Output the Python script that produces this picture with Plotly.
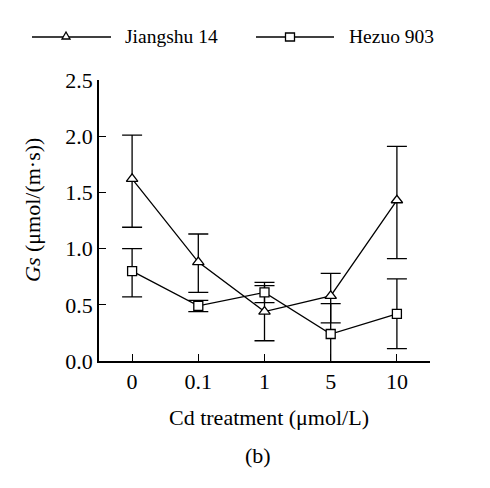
import plotly.graph_objects as go

categories = ["0", "0.1", "1", "5", "10"]
jiangshu = [1.62, 0.88, 0.44, 0.58, 1.43]
jiangshu_plus = [0.39, 0.25, 0.26, 0.20, 0.48]
jiangshu_minus = [0.43, 0.27, 0.26, 0.24, 0.52]
hezuo = [0.80, 0.49, 0.61, 0.24, 0.42]
hezuo_plus = [0.20, 0.05, 0.06, 0.27, 0.31]
hezuo_minus = [0.23, 0.05, 0.09, 0.28, 0.31]
y_ticks = [0.0, 0.5, 1.0, 1.5, 2.0, 2.5]
y_ticklabels = ["0.0", "0.5", "1.0", "1.5", "2.0", "2.5"]
series_names = ["Jiangshu 14", "Hezuo 903"]

FONT = "Liberation Serif, Times New Roman, serif"
OFF = 8  # page body margin
W, H = 490, 488
# plot area in screen pixels: x 99..430, y 80..361
L, T = 99 - OFF, 80 - OFF
R = W - (430 - OFF)
B = H - (361 - OFF)
PW, PH = W - L - R, H - T - B
FS = 22
LEG_FS = 19.5


def px(x):
    return (x - OFF - L) / PW


def py(y):
    return (H - B - (y - OFF)) / PH


xs = list(range(len(categories)))

fig = go.Figure()
fig.add_trace(go.Scatter(
    x=xs, y=jiangshu, mode="lines+markers", name=series_names[0],
    line=dict(color="black", width=1.3),
    marker=dict(symbol="triangle-up", size=10, color="white",
                line=dict(color="black", width=1.3)),
    error_y=dict(type="data", array=jiangshu_plus, arrayminus=jiangshu_minus,
                 color="black", thickness=1.3, width=10),
    showlegend=False,
))
fig.add_trace(go.Scatter(
    x=xs, y=hezuo, mode="lines+markers", name=series_names[1],
    line=dict(color="black", width=1.3),
    marker=dict(symbol="square", size=9, color="white",
                line=dict(color="black", width=1.3)),
    error_y=dict(type="data", array=hezuo_plus, arrayminus=hezuo_minus,
                 color="black", thickness=1.3, width=10),
    showlegend=False,
))

shapes = []
annotations = []
leg_y = 37
legend_items = [(32, 111, 66, 123, series_names[0], "tri"),
                (256, 334, 290, 347, series_names[1], "sq")]
for x0, x1, mx, tx, name, sym in legend_items:
    shapes.append(dict(type="line", xref="paper", yref="paper",
                       x0=px(x0), x1=px(x1), y0=py(leg_y), y1=py(leg_y),
                       line=dict(color="black", width=1.3)))
    if sym == "tri":
        path = "M {},{} L {},{} L {},{} Z".format(
            px(mx), py(leg_y - 5), px(mx - 4), py(leg_y + 2), px(mx + 4), py(leg_y + 2))
        shapes.append(dict(type="path", xref="paper", yref="paper", path=path,
                           fillcolor="white", line=dict(color="black", width=1.3)))
    else:
        shapes.append(dict(type="rect", xref="paper", yref="paper",
                           x0=px(mx - 4.5), x1=px(mx + 4.5),
                           y0=py(leg_y - 4), y1=py(leg_y + 4),
                           fillcolor="white", line=dict(color="black", width=1.3)))
    annotations.append(dict(xref="paper", yref="paper", x=px(tx), y=py(leg_y - 1),
                            xanchor="left", yanchor="middle", showarrow=False,
                            text=name, font=dict(family=FONT, size=LEG_FS, color="black")))

annotations.append(dict(xref="paper", yref="paper", x=px(258), y=py(455),
                        xanchor="center", yanchor="middle", showarrow=False,
                        text="(b)", font=dict(family=FONT, size=FS, color="black")))
annotations.append(dict(xref="paper", yref="paper", x=px(269), y=py(417),
                        xanchor="center", yanchor="middle", showarrow=False,
                        text="Cd treatment (μmol/L)", font=dict(family=FONT, size=FS, color="black")))
annotations.append(dict(xref="paper", yref="paper", x=px(32), y=py(210),
                        xanchor="center", yanchor="middle", showarrow=False, textangle=-90,
                        text="<i>Gs</i> (μmol/(m·s))", font=dict(family=FONT, size=FS, color="black")))

fig.update_layout(
    width=W, height=H,
    margin=dict(l=L, r=R, t=T, b=B),
    paper_bgcolor="white", plot_bgcolor="white",
    font=dict(family=FONT, size=FS, color="black"),
    shapes=shapes, annotations=annotations,
    showlegend=False,
)
fig.update_xaxes(
    range=[-0.5, 4.5], tickmode="array", tickvals=xs, ticktext=categories,
    tickson="boundaries", ticks="inside", ticklen=7, tickwidth=1.3, tickcolor="black",
    showline=True, linecolor="black", linewidth=1.5, showgrid=False, zeroline=False,
    tickfont=dict(family=FONT, size=FS),
)
fig.update_yaxes(
    range=[0, 2.5], tickmode="array", tickvals=y_ticks, ticktext=y_ticklabels,
    ticks="inside", ticklen=7, tickwidth=1.3, tickcolor="black",
    showline=True, linecolor="black", linewidth=1.5, showgrid=False, zeroline=False,
    tickfont=dict(family=FONT, size=FS),
)

fig.write_html("out.html")
